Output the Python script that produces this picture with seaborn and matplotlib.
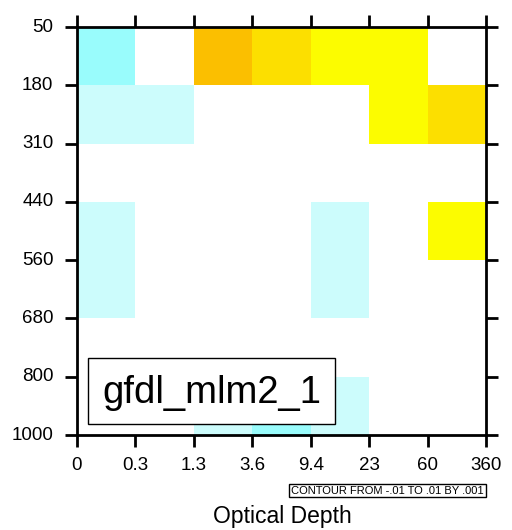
import numpy as np
import pandas as pd
import matplotlib
matplotlib.use("Agg")
import matplotlib.pyplot as plt
from matplotlib.colors import ListedColormap, BoundaryNorm
from matplotlib.patches import Rectangle
import seaborn as sns

# ISCCP-style joint histogram difference: cloud-top pressure (rows) x optical depth (columns)
tau_labels = ["0", "0.3", "1.3", "3.6", "9.4", "23", "60", "360"]
pres_labels = ["50", "180", "310", "440", "560", "680", "800", "1000"]
model_name = "gfdl_mlm2_1"
contour_note = "CONTOUR FROM -.01 TO .01 BY .001"

row_50_180 = [-0.0025, 0.0, 0.0035, 0.0025, 0.0015, 0.0015, 0.0]
row_180_310 = [-0.0015, -0.0015, 0.0, 0.0, 0.0, 0.0015, 0.0025]
row_310_440 = [0.0, 0.0, 0.0, 0.0, 0.0, 0.0, 0.0]
row_440_560 = [-0.0015, 0.0, 0.0, 0.0, -0.0015, 0.0, 0.0015]
row_560_680 = [-0.0015, 0.0, 0.0, 0.0, -0.0015, 0.0, 0.0]
row_680_800 = [0.0, 0.0, 0.0, 0.0, 0.0, 0.0, 0.0]
row_800_1000 = [0.0, 0.0, -0.0015, -0.0025, -0.0015, 0.0, 0.0]

data = pd.DataFrame(
    [row_50_180, row_180_310, row_310_440, row_440_560,
     row_560_680, row_680_800, row_800_1000],
    columns=tau_labels[:-1], index=pres_labels[:-1],
)

# contour levels -0.01 .. 0.01 by 0.001 with a blue-white-orange fill table
levels = np.round(np.arange(-0.010, 0.0101, 0.001), 4)
colors = [
    "#1030a0", "#1848c0", "#2060d8", "#2878f0", "#3890ff",
    "#48a8ff", "#60c8ff", "#99fcfc", "#ccfcfc", "#ffffff",
    "#ffffff", "#fcfc00", "#fcdf00", "#fbbf00", "#f8a000",
    "#f08000", "#e86000", "#e04000", "#c82000", "#a00000",
]
cmap = ListedColormap(colors)
norm = BoundaryNorm(levels, cmap.N)

sns.set_style("white")
plt.rcParams["font.family"] = ["Liberation Sans", "DejaVu Sans"]
plt.rcParams["text.color"] = "black"
plt.rcParams["xtick.color"] = "black"
plt.rcParams["ytick.color"] = "black"
plt.rcParams["axes.labelcolor"] = "black"

fig = plt.figure(figsize=(5.12, 5.30), dpi=100)
ax = fig.add_axes([77 / 512, 1 - 435 / 530, 409 / 512, 408 / 530])

sns.heatmap(data, cmap=cmap, norm=norm, cbar=False, ax=ax,
            linewidths=0, square=False)

ax.set_xticks(np.arange(len(tau_labels)))
ax.set_xticklabels(tau_labels, rotation=0)
ax.set_yticks(np.arange(len(pres_labels)))
ax.set_yticklabels(pres_labels, rotation=0)
ax.set_xlim(0, 7)
ax.set_ylim(7, 0)
ax.set_xlabel("")
ax.set_ylabel("")

for side in ["left", "right", "top", "bottom"]:
    ax.spines[side].set_visible(True)
    ax.spines[side].set_linewidth(2.0)
    ax.spines[side].set_color("black")

ax.tick_params(axis="both", which="major", direction="out", length=8.6,
               width=2.0, color="black", labelcolor="black", labelsize=13.5,
               left=True, bottom=True, top=True, right=True,
               labeltop=False, labelright=False)
ax.tick_params(axis="y", pad=8.4)
ax.tick_params(axis="x", pad=7.2)

fig.text(282.5 / 512, 1 - 522.7 / 530, "Optical Depth", ha="center",
         va="baseline", fontsize=16.5, color="black")

# model label box
fig.patches.append(Rectangle((88 / 512, 1 - 424 / 530), 247 / 512, 66 / 530,
                             transform=fig.transFigure, facecolor="white",
                             edgecolor="black", linewidth=1.0, zorder=5))
fig.text(211.5 / 512, 1 - 403 / 530, model_name, ha="center", va="baseline",
         fontsize=27.5, color="black", zorder=6)

# contour information box
fig.patches.append(Rectangle((289 / 512, 1 - 497 / 530), 197 / 512, 13 / 530,
                             transform=fig.transFigure, facecolor="white",
                             edgecolor="black", linewidth=1.0, zorder=5))
fig.text(387.5 / 512, 1 - 490.5 / 530, contour_note, ha="center",
         va="center", fontsize=8.0, color="black", zorder=6)

fig.savefig("out.png", dpi=100, facecolor="white")
